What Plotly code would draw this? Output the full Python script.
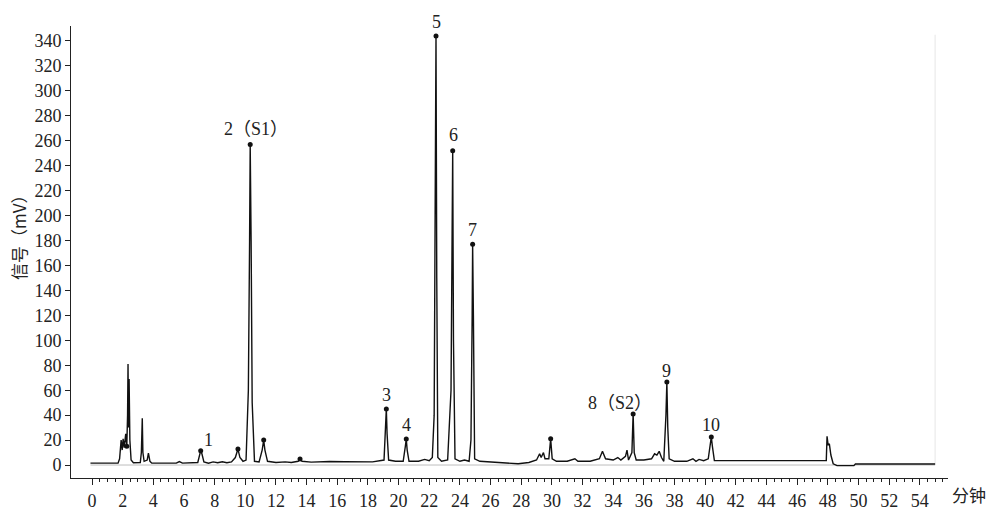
import plotly.graph_objects as go

# ---- chromatogram trace ----
time_min = [
    -0.1, 1.7, 1.8, 1.9, 1.97, 2.03, 2.1, 2.2, 2.27, 2.32, 2.35, 2.38, 2.42, 2.47, 2.55, 2.7,
    3.15, 3.22, 3.28, 3.32, 3.4, 3.6, 3.68, 3.78, 3.9, 5.5, 5.7, 5.9, 6.9, 7.02, 7.09, 7.17,
    7.3, 7.6, 7.9, 8.2, 8.5, 8.8, 9.1, 9.35, 9.52, 9.65, 9.85, 10.05, 10.2, 10.28, 10.32,
    10.38, 10.45, 10.6, 10.9, 11.1, 11.2, 11.28, 11.45, 12.0, 12.6, 13.0, 13.45, 13.57, 13.7,
    14.3, 15.5, 16.5, 17.0, 18.3, 19.05, 19.14, 19.2, 19.25, 19.35, 19.8, 20.3, 20.44, 20.5,
    20.56, 20.68, 21.3, 21.7, 22.0, 22.2, 22.32, 22.4, 22.44, 22.49, 22.56, 22.8, 23.2, 23.42,
    23.5, 23.53, 23.58, 23.68, 24.0, 24.3, 24.6, 24.72, 24.8, 24.83, 24.88, 24.96, 25.3, 26.0,
    27.0, 27.8, 28.5, 29.0, 29.2, 29.3, 29.45, 29.55, 29.8, 29.92, 30.02, 30.3, 31.0, 31.5,
    31.7, 32.5, 33.1, 33.3, 33.5, 34.0, 34.3, 34.5, 34.8, 34.9, 35.0, 35.22, 35.3, 35.37,
    35.5, 36.0, 36.5, 36.7, 36.85, 37.0, 37.15, 37.3, 37.44, 37.5, 37.56, 37.65, 38.0, 38.8,
    39.2, 39.4, 39.6, 39.9, 40.2, 40.33, 40.4, 40.47, 40.6, 47.9, 47.95, 48.02, 48.1, 48.2,
    48.35, 48.6, 49.7, 49.8, 55.0,
]
signal_mv = [
    1.5, 1.5, 5, 20, 12, 21, 14, 25, 15, 40, 81, 30, 69, 20, 4, 1.8,
    2, 10, 37.5, 10, 3, 4, 9.5, 3, 1.5, 1.5, 2.8, 1.5, 2, 9, 11.5, 9,
    2.5, 1.5, 2.5, 1.8, 2.6, 1.8, 2.5, 6, 12.8, 6, 3, 4, 60, 180, 257,
    180, 50, 3, 2.5, 12, 20, 12, 3, 2, 2.5, 2, 3, 4.8, 3,
    2.3, 2.8, 2.6, 2.5, 2.5, 4, 30, 45, 25, 4, 3, 3, 15, 20.8,
    12, 3, 3, 4.5, 3.5, 6, 40, 250, 344, 150, 6, 3, 4, 60,
    210, 252, 100, 5, 3, 4, 3, 20, 120, 177, 120, 5, 3, 2.5,
    2, 1, 2, 4, 9, 6, 10, 5, 5, 21, 5, 3, 3, 5,
    3, 3, 5, 11, 5, 4, 6, 4, 7, 12, 4, 10, 41, 10,
    4, 4, 5, 9, 8, 11, 6, 3, 40, 66.5, 30, 5, 3, 3,
    5, 3, 4.5, 3.5, 5, 18, 22.5, 15, 3.5, 3.5, 23, 16, 17, 8,
    1, -0.5, -0.5, 0.8, 0.8,
]

# ---- peak markers ----
dot_times = [2.27, 7.09, 9.52, 10.32, 11.2, 13.57, 19.2, 20.5, 22.44, 23.53, 24.83, 29.92, 35.3, 37.5, 40.4]
dot_heights = [15, 11.5, 12.8, 257, 20, 4.8, 45, 20.8, 344, 252, 177, 21, 41, 66.5, 22.5]

# ---- peak labels ----
label_texts = ["1", "2（S1）", "3", "4", "5", "6", "7", "8（S2）", "9", "10"]
label_times = [7.09, 10.32, 19.2, 20.5, 22.44, 23.53, 24.83, 35.3, 37.5, 40.4]
label_heights = [11.5, 257, 45, 20.8, 344, 252, 177, 41, 66.5, 22.5]
label_dx = [8, 6, 0, 0, 0, 1, 0, -13, 0, 0]
label_dy = [11, 15, 14, 14, 14, 16, 14, 11, 11, 12]

# ---- axis ticks ----
x_major = list(range(0, 55, 2))
x_minor = [v / 2 for v in range(1, 112) if (v / 2) % 2 != 0]
y_major = list(range(0, 341, 20))

SERIF = "Liberation Serif, Times New Roman, Noto Sans CJK SC, serif"

fig = go.Figure()

# reference baseline + right frame line
fig.add_shape(type="line", xref="x", yref="y", x0=-0.1, x1=55.0, y0=0, y1=0,
              line=dict(color="#bdbdbd", width=1), layer="below")
fig.add_shape(type="line", xref="x", yref="y", x0=55.0, x1=55.0, y0=0, y1=345,
              line=dict(color="#e6e6e6", width=1), layer="below")

fig.add_trace(go.Scatter(x=time_min, y=signal_mv, mode="lines",
                         line=dict(color="#111111", width=1.4), hoverinfo="skip",
                         showlegend=False))
fig.add_trace(go.Scatter(x=dot_times, y=dot_heights, mode="markers",
                         marker=dict(color="#111111", size=5), showlegend=False))

for t, h, txt, dx, dy in zip(label_times, label_heights, label_texts, label_dx, label_dy):
    fig.add_annotation(x=t, y=h, text=txt, showarrow=False, xanchor="center",
                       yanchor="middle", xshift=dx, yshift=dy,
                       font=dict(family=SERIF, size=18, color="#222222"))

fig.add_annotation(xref="paper", yref="paper", x=1, y=0, text="分钟", showarrow=False,
                   xanchor="left", yanchor="middle", xshift=2, yshift=-16,
                   font=dict(family="Noto Sans CJK SC", size=17, color="#222222"))
fig.add_annotation(xref="paper", yref="paper", x=0, y=0.54, text="信号（mV）",
                   showarrow=False, textangle=-90, xanchor="center", yanchor="middle",
                   xshift=-52, font=dict(family="Noto Sans CJK SC, " + SERIF, size=17,
                                         color="#222222"))

fig.update_layout(
    width=998, height=518,
    margin=dict(l=71, r=50, t=26, b=40, autoexpand=False),
    plot_bgcolor="white", paper_bgcolor="white",
    font=dict(family=SERIF, size=17, color="#222222"),
    xaxis=dict(range=[-1.37, 55.84], showgrid=False, zeroline=False, automargin=False,
               showline=True, linecolor="#222222", linewidth=1,
               tickmode="array", tickvals=x_major, ticks="outside", ticklen=6,
               tickcolor="#222222", tickfont=dict(family=SERIF, size=18),
               minor=dict(tickmode="array", tickvals=x_minor, ticks="outside",
                          ticklen=3, tickcolor="#222222")),
    yaxis=dict(range=[-10.4, 352], showgrid=False, zeroline=False, automargin=False,
               showline=True, linecolor="#222222", linewidth=1,
               tickmode="array", tickvals=y_major, ticks="outside", ticklen=5,
               tickcolor="#222222", tickfont=dict(family=SERIF, size=18)),
)

# remove the default page margin so the figure fills the 998x518 window exactly
fig.write_html(
    "out.html",
    config={"displayModeBar": False},
    post_script="document.body.style.margin='0px';document.body.style.overflow='hidden';",
)
